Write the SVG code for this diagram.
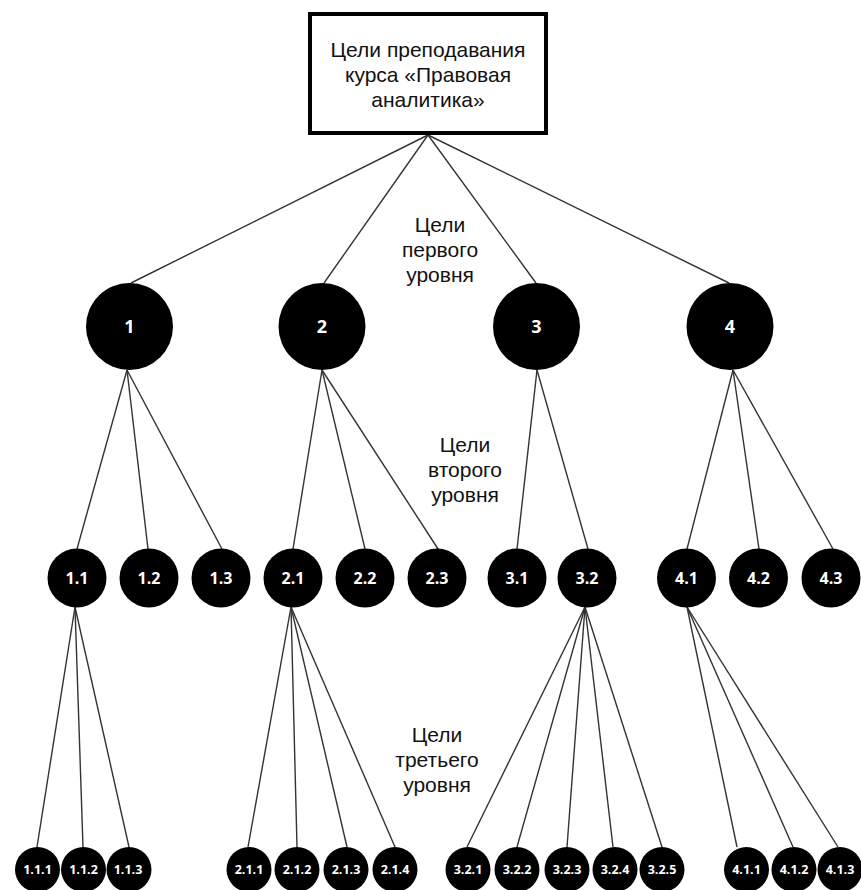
<svg xmlns="http://www.w3.org/2000/svg" width="861" height="890" viewBox="0 0 861 890">
<style>
.bg{fill:#fff}
.ln{stroke:#333;stroke-width:1.4;fill:none}
.nd{fill:#000}
.nt{fill:#fff;font-family:"Open Sans","Liberation Sans",sans-serif;font-weight:bold;text-anchor:middle}
.t1{font-size:18px}
.t2{font-size:16px}
.t3{font-size:12.5px}
.lb{fill:#111;font-family:"Liberation Sans","DejaVu Sans",sans-serif;font-size:21px;text-anchor:middle}
.rt{fill:#111;font-family:"Liberation Sans","DejaVu Sans",sans-serif;font-size:21px;text-anchor:middle}
</style>
<rect class="bg" x="0" y="0" width="861" height="890"/>
<g id="connectors">
<line class="ln" x1="428" y1="135" x2="131" y2="283"/>
<line class="ln" x1="428" y1="135" x2="324" y2="283"/>
<line class="ln" x1="428" y1="135" x2="536" y2="283"/>
<line class="ln" x1="428" y1="135" x2="729" y2="283"/>
<line class="ln" x1="127" y1="370" x2="77" y2="549"/>
<line class="ln" x1="127" y1="370" x2="148" y2="549"/>
<line class="ln" x1="127" y1="370" x2="222" y2="549"/>
<line class="ln" x1="322" y1="370" x2="293" y2="549"/>
<line class="ln" x1="322" y1="370" x2="365" y2="549"/>
<line class="ln" x1="322" y1="370" x2="440" y2="552"/>
<line class="ln" x1="537" y1="370" x2="517" y2="549"/>
<line class="ln" x1="537" y1="370" x2="588" y2="549"/>
<line class="ln" x1="733" y1="370" x2="687" y2="549"/>
<line class="ln" x1="733" y1="370" x2="759" y2="549"/>
<line class="ln" x1="733" y1="370" x2="833" y2="549"/>
<line class="ln" x1="75" y1="607" x2="37" y2="847"/>
<line class="ln" x1="75" y1="607" x2="83" y2="847"/>
<line class="ln" x1="75" y1="607" x2="129" y2="847"/>
<line class="ln" x1="291" y1="607" x2="248" y2="847"/>
<line class="ln" x1="291" y1="607" x2="297" y2="847"/>
<line class="ln" x1="291" y1="607" x2="347" y2="847"/>
<line class="ln" x1="291" y1="607" x2="395" y2="847"/>
<line class="ln" x1="585" y1="607" x2="467" y2="847"/>
<line class="ln" x1="585" y1="607" x2="517" y2="847"/>
<line class="ln" x1="585" y1="607" x2="567" y2="847"/>
<line class="ln" x1="585" y1="607" x2="613" y2="847"/>
<line class="ln" x1="585" y1="607" x2="662" y2="847"/>
<line class="ln" x1="687" y1="607" x2="737" y2="847"/>
<line class="ln" x1="687" y1="607" x2="793" y2="847"/>
<line class="ln" x1="687" y1="607" x2="838" y2="847"/>
</g>
<g id="root">
<rect x="310" y="14" width="236" height="119" fill="#fff" stroke="#000" stroke-width="4"/>
<text class="rt" x="428" y="57">Цели преподавания</text>
<text class="rt" x="428" y="82">курса «Правовая</text>
<text class="rt" x="428" y="107">аналитика»</text>
</g>
<g id="label-1">
<text class="lb" x="440" y="232">Цели</text>
<text class="lb" x="440" y="257">первого</text>
<text class="lb" x="440" y="282">уровня</text>
</g>
<g id="label-2">
<text class="lb" x="465" y="452">Цели</text>
<text class="lb" x="465" y="477">второго</text>
<text class="lb" x="465" y="502">уровня</text>
</g>
<g id="label-3">
<text class="lb" x="437" y="742">Цели</text>
<text class="lb" x="437" y="767">третьего</text>
<text class="lb" x="437" y="792">уровня</text>
</g>
<g id="n1"><circle class="nd" cx="129.5" cy="326.5" r="43.5"/><text class="nt t1" x="129.5" y="333">1</text></g>
<g id="n2"><circle class="nd" cx="322" cy="326.5" r="43.5"/><text class="nt t1" x="322" y="333">2</text></g>
<g id="n3"><circle class="nd" cx="536.5" cy="326.5" r="43.5"/><text class="nt t1" x="536.5" y="333">3</text></g>
<g id="n4"><circle class="nd" cx="730" cy="326.5" r="43.5"/><text class="nt t1" x="730" y="333">4</text></g>
<g id="n1-1"><circle class="nd" cx="77" cy="578" r="29.5"/><text class="nt t2" x="77" y="584">1.1</text></g>
<g id="n1-2"><circle class="nd" cx="149" cy="578" r="29.5"/><text class="nt t2" x="149" y="584">1.2</text></g>
<g id="n1-3"><circle class="nd" cx="221" cy="578" r="29.5"/><text class="nt t2" x="221" y="584">1.3</text></g>
<g id="n2-1"><circle class="nd" cx="293" cy="578" r="29.5"/><text class="nt t2" x="293" y="584">2.1</text></g>
<g id="n2-2"><circle class="nd" cx="365" cy="578" r="29.5"/><text class="nt t2" x="365" y="584">2.2</text></g>
<g id="n2-3"><circle class="nd" cx="437" cy="578" r="29.5"/><text class="nt t2" x="437" y="584">2.3</text></g>
<g id="n3-1"><circle class="nd" cx="517" cy="578" r="29.5"/><text class="nt t2" x="517" y="584">3.1</text></g>
<g id="n3-2"><circle class="nd" cx="587" cy="578" r="29.5"/><text class="nt t2" x="587" y="584">3.2</text></g>
<g id="n4-1"><circle class="nd" cx="686.5" cy="578" r="29.5"/><text class="nt t2" x="686.5" y="584">4.1</text></g>
<g id="n4-2"><circle class="nd" cx="758.5" cy="578" r="29.5"/><text class="nt t2" x="758.5" y="584">4.2</text></g>
<g id="n4-3"><circle class="nd" cx="831" cy="578" r="29.5"/><text class="nt t2" x="831" y="584">4.3</text></g>
<g id="n1-1-1"><circle class="nd" cx="37.5" cy="869.5" r="22.5"/><text class="nt t3" x="37.5" y="874">1.1.1</text></g>
<g id="n1-1-2"><circle class="nd" cx="83.5" cy="869.5" r="22.5"/><text class="nt t3" x="83.5" y="874">1.1.2</text></g>
<g id="n1-1-3"><circle class="nd" cx="129" cy="869.5" r="22.5"/><text class="nt t3" x="128" y="874">1.1.3</text></g>
<g id="n2-1-1"><circle class="nd" cx="249" cy="869.5" r="22.5"/><text class="nt t3" x="249" y="874">2.1.1</text></g>
<g id="n2-1-2"><circle class="nd" cx="297" cy="869.5" r="22.5"/><text class="nt t3" x="297" y="874">2.1.2</text></g>
<g id="n2-1-3"><circle class="nd" cx="346" cy="869.5" r="22.5"/><text class="nt t3" x="346" y="874">2.1.3</text></g>
<g id="n2-1-4"><circle class="nd" cx="395" cy="869.5" r="22.5"/><text class="nt t3" x="395" y="874">2.1.4</text></g>
<g id="n3-2-1"><circle class="nd" cx="468" cy="869.5" r="22.5"/><text class="nt t3" x="468" y="874">3.2.1</text></g>
<g id="n3-2-2"><circle class="nd" cx="517" cy="869.5" r="22.5"/><text class="nt t3" x="517" y="874">3.2.2</text></g>
<g id="n3-2-3"><circle class="nd" cx="567" cy="869.5" r="22.5"/><text class="nt t3" x="567" y="874">3.2.3</text></g>
<g id="n3-2-4"><circle class="nd" cx="615" cy="869.5" r="22.5"/><text class="nt t3" x="615" y="874">3.2.4</text></g>
<g id="n3-2-5"><circle class="nd" cx="662" cy="869.5" r="22.5"/><text class="nt t3" x="662" y="874">3.2.5</text></g>
<g id="n4-1-1"><circle class="nd" cx="746.5" cy="869.5" r="22.5"/><text class="nt t3" x="746.5" y="874">4.1.1</text></g>
<g id="n4-1-2"><circle class="nd" cx="794" cy="869.5" r="22.5"/><text class="nt t3" x="794" y="874">4.1.2</text></g>
<g id="n4-1-3"><circle class="nd" cx="840" cy="869.5" r="22.5"/><text class="nt t3" x="840" y="874">4.1.3</text></g>
</svg>
